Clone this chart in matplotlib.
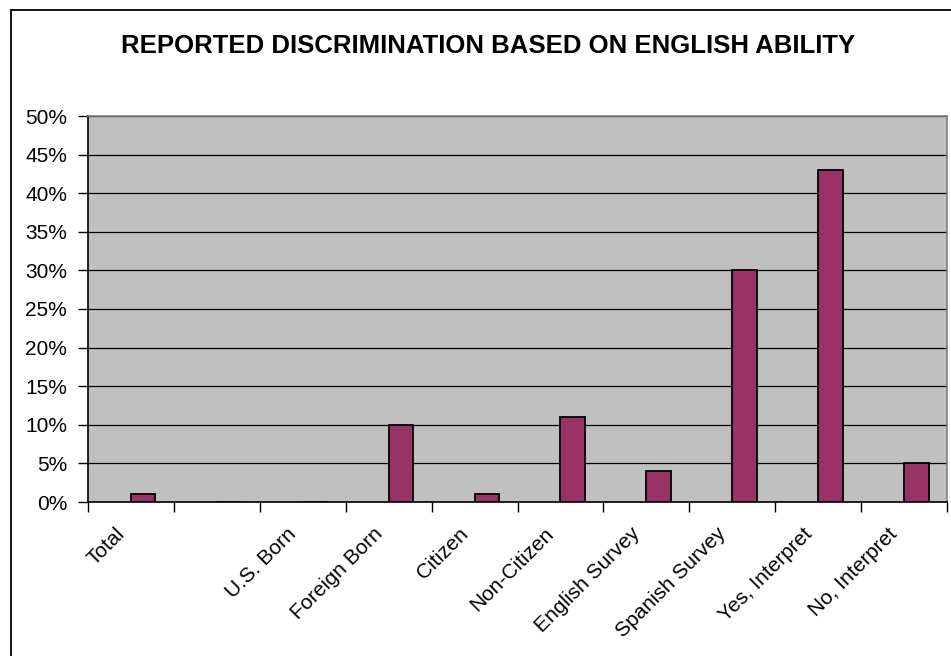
import matplotlib
matplotlib.use("Agg")
import matplotlib.pyplot as plt
from matplotlib.lines import Line2D
from matplotlib.ticker import FixedLocator, PercentFormatter
from matplotlib.transforms import ScaledTranslation

plt.rcParams['font.family'] = ['Liberation Sans', 'DejaVu Sans']

categories = ["Total", "", "U.S. Born", "Foreign Born", "Citizen", "Non-Citizen",
              "English Survey", "Spanish Survey", "Yes, Interpret", "No, Interpret"]
values = [1, 0, 0, 10, 1, 11, 4, 30, 43, 5]
y_ticks = [0, 5, 10, 15, 20, 25, 30, 35, 40, 45, 50]
title = "REPORTED DISCRIMINATION BASED ON ENGLISH ABILITY"

W, H = 951, 656
fig = plt.figure(figsize=(W / 100, H / 100), dpi=100)
fig.patch.set_facecolor("white")

ax = fig.add_axes([88 / W, 1 - 502 / H, (947 - 88) / W, (502 - 116) / H])
ax.set_facecolor("#C0C0C0")

n = len(categories)
xs = list(range(n))
bar_w = 1 / 3.5
ax.bar(xs, values, width=bar_w, align="edge", color="#993366",
       edgecolor="black", linewidth=1.3, zorder=3)

ax.set_xlim(-0.5, n - 0.5)
ax.set_ylim(0, 50)

# horizontal gridlines
ax.yaxis.set_major_locator(FixedLocator(y_ticks))
ax.yaxis.set_major_formatter(PercentFormatter(decimals=0))
ax.grid(axis="y", color="black", linewidth=0.9, zorder=1)
ax.set_axisbelow(True)

# category boundaries as tick marks; names centred on each category
ax.xaxis.set_major_locator(FixedLocator([i - 0.5 for i in range(n + 1)]))
ax.xaxis.set_major_formatter(plt.NullFormatter())
ax.xaxis.set_minor_locator(FixedLocator(xs))
ax.set_xticklabels(categories, minor=True, rotation=45, ha="right", va="top",
                   rotation_mode="anchor", fontsize=15)
ax.tick_params(axis="x", which="minor", length=0, pad=16)
ax.tick_params(axis="x", which="major", length=7, width=1, color="black")
ax.tick_params(axis="y", length=7, width=1, color="black", labelsize=15, pad=8)

shift = ScaledTranslation(-16 / 100, 0, fig.dpi_scale_trans)
for lbl in ax.get_xticklabels(minor=True):
    lbl.set_transform(lbl.get_transform() + shift)

for side in ("top", "right"):
    ax.spines[side].set_color("#808080")
    ax.spines[side].set_linewidth(1.2)
for side in ("left", "bottom"):
    ax.spines[side].set_color("black")
    ax.spines[side].set_linewidth(1.2)

fig.text(488 / W, 1 - 46 / H, title, ha="center", va="center",
         fontsize=18.5, fontweight="bold")

# chart area border
fig.add_artist(Line2D([11 / W, 1], [1 - 10 / H, 1 - 10 / H], color="black",
                      linewidth=1.3, transform=fig.transFigure))
fig.add_artist(Line2D([11 / W, 11 / W], [0, 1 - 10 / H], color="black",
                      linewidth=1.3, transform=fig.transFigure))

fig.savefig("out.png", dpi=100)
